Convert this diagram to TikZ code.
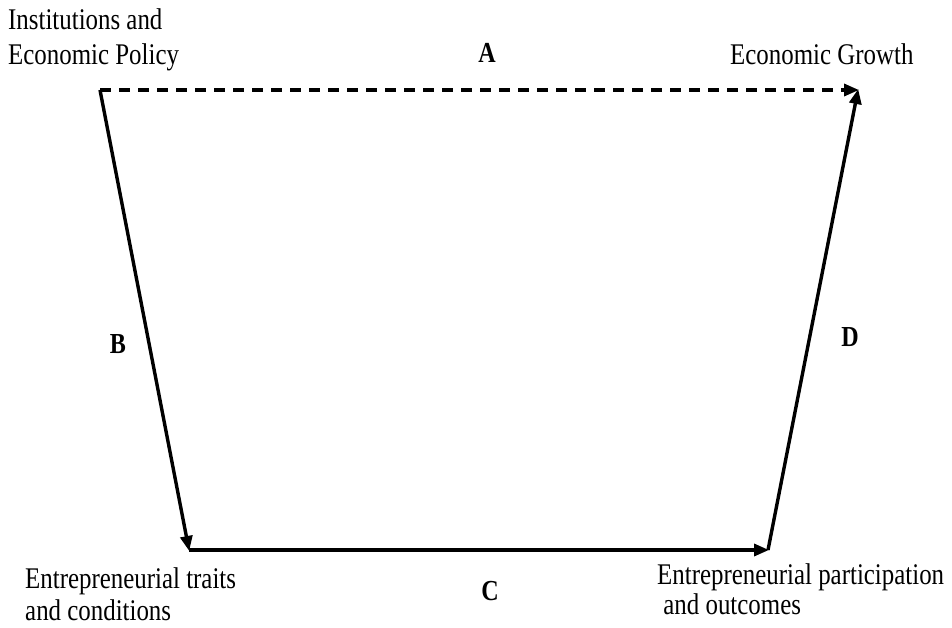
\documentclass[tikz,border=0pt]{standalone}
\usepackage{fontspec}
\setmainfont{Liberation Serif}
\newfontfamily\narrowserif[FakeStretch=0.83]{Liberation Serif}
\usetikzlibrary{arrows.meta}
\begin{document}
\begin{tikzpicture}[x=1pt,y=-1pt,
  lbl/.style={inner sep=0pt,anchor=base west,align=left,
    font=\narrowserif\fontsize{30}{#1}\selectfont},
  lbl/.default=35,
  letter/.style={inner sep=0pt,anchor=base,font=\narrowserif\fontsize{29}{30}\selectfont\bfseries},
  link/.style={line width=3.4pt,-{Triangle[length=15pt,width=12pt]},shorten >=-1pt},
  dashlink/.style={link,dash pattern=on 11pt off 8pt}]
\useasboundingbox (0,0) rectangle (952,628);
% corner points of the framework
\coordinate (tl) at (100,90);
\coordinate (tr) at (858,90);
\coordinate (bl) at (189,550);
\coordinate (br) at (768,550);
% texts at the corners (anchored at the baseline of the last line)
\node[lbl=35] (inst) at (8,65) {Institutions and\\Economic Policy};
\node[lbl] (growth) at (730,65) {Economic Growth};
\node[lbl=32] (traits) at (25,620) {Entrepreneurial traits\\and conditions};
\node[lbl=30] (part) at (657,614) {Entrepreneurial participation\\\ and outcomes};
% path letters
\node[letter] (la) at (487,63) {A};
\node[letter] (lb) at (118,353) {B};
\node[letter] (lc) at (490,600) {C};
\node[letter] (ld) at (850,346) {D};
% connectors
\draw[dashlink] (tl) -- (tr);
\draw[link] (tl) -- (bl);
\draw[link] (bl) -- (br);
\draw[link] (br) -- (tr);
\end{tikzpicture}
\end{document}
